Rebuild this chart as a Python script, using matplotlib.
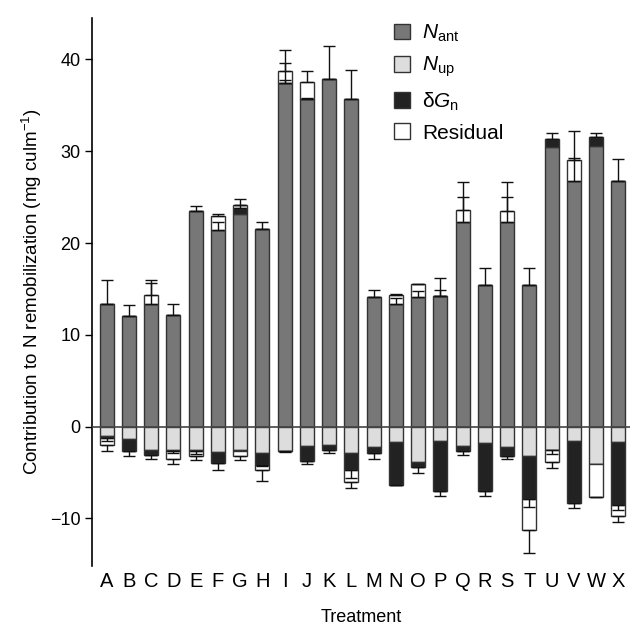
import numpy as np
import matplotlib.pyplot as plt
from matplotlib.patches import Patch

plt.rcParams['font.family'] = ['Liberation Sans', 'DejaVu Sans']
plt.rcParams['mathtext.fontset'] = 'custom'
plt.rcParams['mathtext.rm'] = 'Liberation Sans'
plt.rcParams['mathtext.it'] = 'Liberation Sans:italic'

treatments = list('ABCDEFGHIJKLMNOPQRSTUVWX')

# parte positiva della colonna
n_ant = [13.4, 12.1, 13.4, 12.2, 23.5, 21.4, 23.2, 21.5, 37.4, 35.75, 37.85, 35.7,
         14.1, 13.4, 14.1, 14.25, 22.35, 15.45, 22.35, 15.4, 30.5, 26.8, 30.6, 26.75]
dgn_pos = [0, 0, 0, 0, 0, 0, 0.6, 0, 0, 0, 0, 0,
           0, 0, 0, 0, 0, 0, 0, 0, 0.8, 0, 1.0, 0]
res_pos = [0, 0, 0.95, 0, 0, 1.6, 0.3, 0, 1.35, 1.75, 0, 0,
           0, 0.9, 1.4, 0, 1.2, 0, 1.15, 0, 0, 2.2, 0, 0]

# parte negativa della colonna
n_up = [-1.0, -1.34, -2.53, -2.53, -2.53, -2.78, -2.53, -2.86, -2.6, -2.06, -2.0, -2.86,
        -2.17, -1.66, -3.85, -1.55, -2.1, -1.73, -2.2, -3.25, -2.53, -1.6, -4.08, -1.66]
dgn_neg = [-0.2, -1.34, -0.57, -0.15, -0.15, -1.19, -0.17, -1.34, 0, -1.7, -0.53, -1.84,
           -0.73, -4.7, -0.55, -5.45, -0.6, -5.27, -1.0, -4.67, 0, -6.7, 0, -6.9]
res_neg = [-0.85, 0, 0, -0.82, -0.57, 0, -0.55, -0.57, 0, 0, 0, -1.3,
           0, 0, 0, 0, 0, 0, 0, -3.36, -1.37, 0, -3.54, -1.17]

# errori (0 = nessuna barra)
err_ant = [2.6, 1.2, 2.2, 1.2, 0.5, 0.9, 0, 0.8, 0.4, 0.1, 3.65, 3.2,
           0.8, 0.65, 0.7, 1.95, 2.65, 1.85, 2.65, 1.9, 0, 2.5, 0, 2.45]
err_dgn_pos = [0, 0, 0, 0, 0, 0, 0.3, 0, 2.2, 0, 0, 0,
               0, 0, 0, 0.65, 0, 0, 0, 0, 0.65, 0, 0.4, 0]
err_res_pos = [0, 0, 1.65, 0, 0, 0.2, 0.7, 0, 2.3, 1.3, 0, 0,
               0, 0.2, 0.05, 0, 3.1, 0, 3.1, 0, 0, 3.2, 0, 0]
err_up = [0, 0, 0, 0, 0, 0, 0, 0, 0.18, 0, 0, 0,
          0, 0, 0, 0, 0, 0, 0, 0, 0, 0, 0, 0]
err_dgn_neg = [0.4, 0.57, 0.4, 0.22, 0.32, 0.8, 0, 0.14, 0, 0.3, 0.37, 0.87,
               0.6, 0.05, 0.6, 0.6, 0.35, 0.6, 0.3, 0.88, 0.4, 0.6, 0, 0.54]
err_res_neg = [0.65, 0, 0, 0.6, 0.35, 0, 0.35, 1.1, 0, 0, 0, 0.7,
               0, 0, 0, 0, 0, 0, 0, 2.5, 0.55, 0, 0.05, 0.65]

col_ant = '#777777'
col_up = '#dddddd'
col_dgn = '#222222'
col_res = '#ffffff'
edge = '#333333'

x = np.arange(len(treatments))
w = 0.63

fig = plt.figure(figsize=(6.33, 6.27), dpi=100)
ax = fig.add_axes([0.146, 0.097, 0.85, 0.874])

n_ant = np.array(n_ant)
dgn_pos = np.array(dgn_pos)
res_pos = np.array(res_pos)
n_up = np.array(n_up)
dgn_neg = np.array(dgn_neg)
res_neg = np.array(res_neg)

kw = dict(width=w, edgecolor=edge, linewidth=1.0, zorder=2)
ax.bar(x, n_ant, color=col_ant, **kw)
ax.bar(x, dgn_pos, bottom=n_ant, color=col_dgn, **kw)
ax.bar(x, res_pos, bottom=n_ant + dgn_pos, color=col_res, **kw)

ax.bar(x, n_up, color=col_up, **kw)
ax.bar(x, dgn_neg, bottom=n_up, color=col_dgn, **kw)
ax.bar(x, res_neg, bottom=n_up + dgn_neg, color=col_res, **kw)


def draw_err(ends, errs, up):
    errs = np.array(errs)
    m = errs > 0
    if not m.any():
        return
    e = errs[m]
    z = np.zeros_like(e)
    yerr = [z, e] if up else [e, z]
    ax.errorbar(x[m], np.asarray(ends)[m], yerr=yerr, fmt='none',
                ecolor='#111111', elinewidth=1.0, capsize=4.5, capthick=1.0, zorder=3)


draw_err(n_ant, err_ant, True)
draw_err(n_ant + dgn_pos, err_dgn_pos, True)
draw_err(n_ant + dgn_pos + res_pos, err_res_pos, True)
draw_err(n_up, err_up, False)
draw_err(n_up + dgn_neg, err_dgn_neg, False)
draw_err(n_up + dgn_neg + res_neg, err_res_neg, False)

ax.axhline(0, color='#444444', linewidth=1.2, zorder=4)

ax.set_xlim(-0.64, 23.55)
ax.set_ylim(-15.2, 44.5)
ax.set_yticks([-10, 0, 10, 20, 30, 40])
ax.set_xticks(x)
ax.set_xticklabels(treatments, fontsize=14.5)
ax.tick_params(axis='x', length=0, pad=4)
ax.tick_params(axis='y', labelsize=13, length=5, width=1.0, direction='out')

for s in ['top', 'right', 'bottom']:
    ax.spines[s].set_visible(False)
ax.spines['left'].set_linewidth(1.2)

ax.set_xlabel('Treatment', fontsize=13, labelpad=13)
ax.set_ylabel(r'Contribution to N remobilization (mg culm$^{-1}$)', fontsize=13.5, labelpad=4)

handles = [Patch(facecolor=col_ant, edgecolor=edge),
           Patch(facecolor=col_up, edgecolor=edge),
           Patch(facecolor=col_dgn, edgecolor=edge),
           Patch(facecolor=col_res, edgecolor=edge)]
labels = [r'$N_{\mathrm{ant}}$', r'$N_{\mathrm{up}}$', r'$\mathrm{\delta}G_{\mathrm{n}}$', 'Residual']
ax.legend(handles, labels, loc='upper left', bbox_to_anchor=(375 / 633, 1 - 4 / 627),
          bbox_transform=fig.transFigure, frameon=False, fontsize=15,
          handlelength=0.8, handleheight=0.8, handletextpad=0.55, labelspacing=0.52)

fig.savefig('out.png', dpi=100)
